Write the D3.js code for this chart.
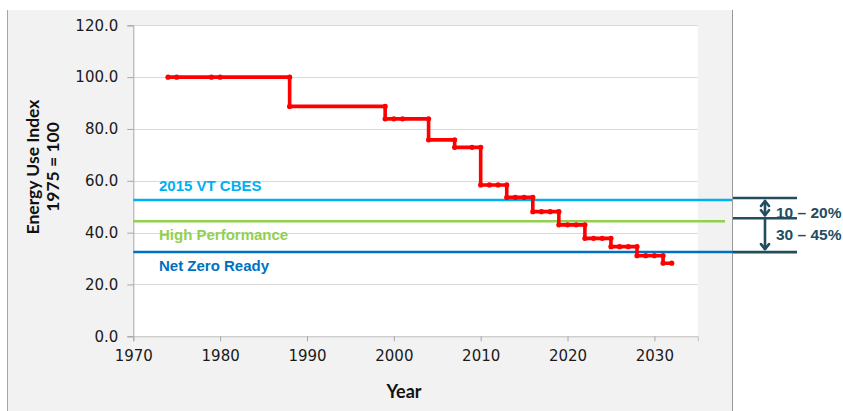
<!DOCTYPE html>
<html>
<head>
<meta charset="utf-8">
<script src="https://cdn.jsdelivr.net/npm/d3@7"></script>
<style>
  html, body { margin: 0; padding: 0; background: #ffffff; }
  svg { display: block; }
</style>
</head>
<body>
<svg id="chart" width="843" height="411"></svg>
<script>
// ---- data ----
const years = [1974, 1975, 1979, 1980, 1988, 1988, 1999, 1999, 2000, 2001, 2004, 2004, 2007, 2007, 2009, 2010,
               2010, 2011, 2012, 2013, 2013, 2014, 2015, 2016, 2016, 2017, 2018, 2019, 2019, 2020, 2021, 2022,
               2022, 2023, 2024, 2025, 2025, 2026, 2027, 2028, 2028, 2029, 2030, 2031, 2031, 2032];
const indexValues = [100, 100, 100, 100, 100, 88.7, 88.7, 83.9, 83.9, 83.9, 83.9, 75.8, 75.8, 72.9, 72.9, 72.9,
               58.4, 58.4, 58.4, 58.4, 53.6, 53.6, 53.6, 53.6, 48.1, 48.1, 48.1, 48.1, 43.0, 43.0, 43.0, 43.0,
               37.8, 37.8, 37.8, 37.8, 34.6, 34.6, 34.6, 34.6, 31.1, 31.1, 31.1, 31.1, 28.2, 28.2];
const refNames = ["2015 VT CBES", "High Performance", "Net Zero Ready"];
const refValues = [52.6, 44.4, 32.5];
const refColors = ["#00b0f0", "#92d050", "#0070c0"];
const rangeLabels = ["10 – 20%", "30 – 45%"];
const yTicks = [0, 20, 40, 60, 80, 100, 120];
const xTicks = [1970, 1980, 1990, 2000, 2010, 2020, 2030];

// ---- layout ----
const svg = d3.select("#chart");
const x = d3.scaleLinear().domain([1970, 2035]).range([133.3, 697.8]);
const y = d3.scaleLinear().domain([0, 120]).range([336.3, 25.3]);
const darkAnno = "#234d5e";
const tickFont = "'DejaVu Sans', sans-serif";

// panel background
svg.append("rect").attr("x", 7).attr("y", 10).attr("width", 725).attr("height", 401).attr("fill", "#f2f2f2");
svg.append("line").attr("x1", 7.5).attr("x2", 7.5).attr("y1", 10).attr("y2", 411).attr("stroke", "#a6a6a6").attr("stroke-width", 1);
svg.append("line").attr("x1", 732.5).attr("x2", 732.5).attr("y1", 10).attr("y2", 411).attr("stroke", "#999999").attr("stroke-width", 1);

// plot area
svg.append("rect").attr("x", x(1970)).attr("y", y(120)).attr("width", x(2035) - x(1970)).attr("height", y(0) - y(120)).attr("fill", "#ffffff");

// gridlines
svg.append("g").selectAll("line").data(yTicks.filter(d => d > 0)).join("line")
  .attr("x1", x(1970)).attr("x2", x(2035))
  .attr("y1", d => Math.round(y(d)) + 0.5).attr("y2", d => Math.round(y(d)) + 0.5)
  .attr("stroke", "#d9d9d9").attr("stroke-width", 1);

// y axis
const yAxis = svg.append("g").attr("transform", `translate(${x(1970)},0)`)
  .call(d3.axisLeft(y).tickValues(yTicks).tickFormat(d3.format(".1f")).tickSize(6).tickPadding(9));
yAxis.select(".domain").attr("stroke", "#a6a6a6");
yAxis.selectAll(".tick line").attr("stroke", "#a6a6a6");
yAxis.selectAll(".tick text").attr("font-family", tickFont).attr("font-size", 15).attr("fill", "#1a1a1a");

// x axis
const xAxis = svg.append("g").attr("transform", `translate(0,${y(0)})`)
  .call(d3.axisBottom(x).tickValues(xTicks).tickFormat(d3.format("d")).tickSize(5).tickPadding(9));
xAxis.select(".domain").attr("stroke", "#bfbfbf");
xAxis.selectAll(".tick line").attr("stroke", "#a6a6a6");
xAxis.selectAll(".tick text").attr("font-family", tickFont).attr("font-size", 15).attr("fill", "#1a1a1a");

// axis titles
svg.append("text").attr("x", 404).attr("y", 398).attr("text-anchor", "middle")
  .attr("font-family", "Lato, sans-serif").attr("font-weight", 700).attr("font-size", 18).attr("fill", "#111")
  .text("Year");
const yt = svg.append("text").attr("transform", "translate(0,167) rotate(-90)")
  .attr("text-anchor", "middle").attr("font-family", "Lato, sans-serif").attr("font-weight", 700)
  .attr("font-size", 17.5).attr("fill", "#111");
yt.append("tspan").attr("x", 0).attr("y", 39).text("Energy Use Index");
yt.append("tspan").attr("x", 0).attr("y", 59).text("1975 = 100");

// reference lines
const refEnds = [732, 725, 733];
svg.append("g").selectAll("line").data(refValues).join("line")
  .attr("x1", x(1970)).attr("x2", (d, i) => refEnds[i])
  .attr("y1", d => y(d)).attr("y2", d => y(d))
  .attr("stroke", (d, i) => refColors[i]).attr("stroke-width", 2.5);

// reference labels
const labelOffsets = [-14, 14, 14];
svg.append("g").selectAll("text").data(refNames).join("text")
  .attr("x", 159).attr("y", (d, i) => y(refValues[i]) + labelOffsets[i])
  .attr("dy", "0.35em")
  .attr("font-family", "'Liberation Sans', Arial, sans-serif").attr("font-weight", 700).attr("font-size", 15)
  .attr("fill", (d, i) => refColors[i]).text(d => d);

// step series
const line = d3.line().x((d, i) => x(years[i])).y(d => y(d));
svg.append("path").attr("d", line(indexValues)).attr("fill", "none")
  .attr("stroke", "#ff0000").attr("stroke-width", 3.6).attr("stroke-linejoin", "miter");
svg.append("g").selectAll("circle").data(indexValues).join("circle")
  .attr("cx", (d, i) => x(years[i])).attr("cy", d => y(d)).attr("r", 2.6)
  .attr("fill", "#ff0000");

// right annotation
const annoY = [y(refValues[0]) - 2, y(refValues[1]) - 3, y(refValues[2])];
svg.append("g").selectAll("line").data(annoY).join("line")
  .attr("x1", 733).attr("x2", 797).attr("y1", d => d).attr("y2", d => d)
  .attr("stroke", darkAnno).attr("stroke-width", 2.7);

const ax = 765;
const arrowG = svg.append("g").attr("stroke", darkAnno).attr("stroke-width", 2.6).attr("fill", "none")
  .attr("stroke-linecap", "round").attr("stroke-linejoin", "round");
// arrow 1 (double headed)
arrowG.append("line").attr("x1", ax).attr("x2", ax).attr("y1", annoY[0] + 3).attr("y2", annoY[1] - 3);
arrowG.append("polyline").attr("points", `${ax - 4},${annoY[0] + 8} ${ax},${annoY[0] + 3} ${ax + 4},${annoY[0] + 8}`);
arrowG.append("polyline").attr("points", `${ax - 4},${annoY[1] - 8} ${ax},${annoY[1] - 3} ${ax + 4},${annoY[1] - 8}`);
// arrow 2 (down)
arrowG.append("line").attr("x1", ax).attr("x2", ax).attr("y1", annoY[1]).attr("y2", annoY[2] - 3);
arrowG.append("polyline").attr("points", `${ax - 4},${annoY[2] - 8} ${ax},${annoY[2] - 3} ${ax + 4},${annoY[2] - 8}`);

svg.append("g").selectAll("text").data(rangeLabels).join("text")
  .attr("x", 776).attr("y", (d, i) => i === 0 ? 213 : 235).attr("dy", "0.35em")
  .attr("font-family", "'Liberation Sans', Arial, sans-serif").attr("font-weight", 700).attr("font-size", 15.5)
  .attr("fill", darkAnno).text(d => d);
</script>
</body>
</html>
